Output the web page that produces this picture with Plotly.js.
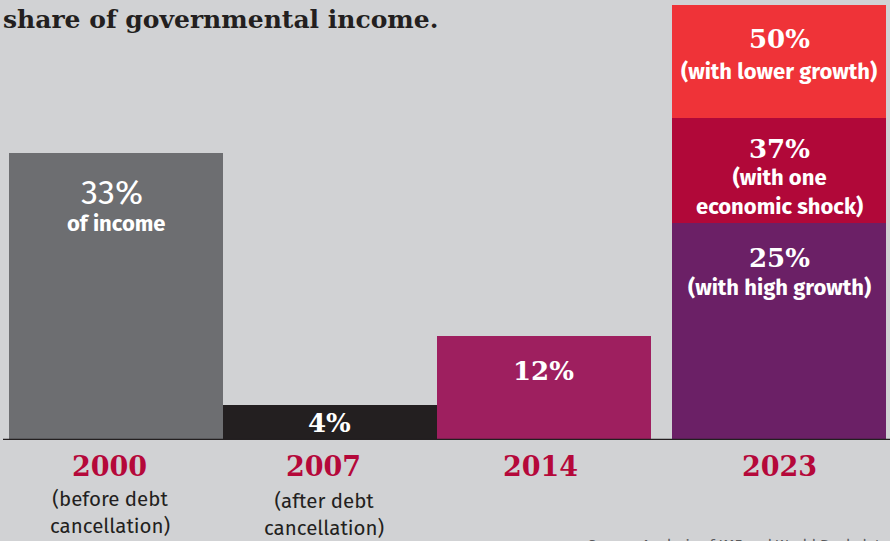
<!DOCTYPE html>
<html>
<head>
<meta charset="utf-8">
<script src="https://cdn.plot.ly/plotly-3.0.1.min.js"></script>
<style>
  html, body { margin: 0; padding: 0; background: #d1d2d4; }
  #chart { width: 890px; height: 541px; }
</style>
</head>
<body>
<div id="chart"></div>
<script>
// ---- data ----
const categories = ["2000", "2007", "2014", "2023"];
const historicShares = [33, 4, 12];              // 2000, 2007, 2014
const historicColors = ["#6d6e71", "#231f20", "#9e1f5f"];
const scenarioShares = [50, 37, 25];             // 2023 projections (drawn back to front)
const scenarioColors = ["#ef3338", "#b10839", "#6b2066"];
const scenarioNotes = ["(with lower growth)", "(with one<br>economic shock)", "(with high growth)"];
const yearNotes = ["(before debt<br>cancellation)", "(after debt<br>cancellation)", "", ""];
const titleText = "share of governmental income.";
const sourceText = "Source: Analysis of IMF and World Bank data";

// ---- style ----
const SLAB = "DejaVu Serif, serif";
const SANS = "Fira Sans, Noto Sans, sans-serif";
const WHITE = "#ffffff";
const YEAR_RED = "#b5083a";
const BG = "#d1d2d4";
const SHIFT_2023 = 0.1; // gap before the 2023 column (category units)

const traces = [{
  type: "bar",
  x: categories.slice(0, 3),
  y: historicShares,
  width: 1,
  marker: { color: historicColors, line: { width: 0 } },
  hoverinfo: "skip"
}];
scenarioShares.forEach((v, i) => {
  traces.push({
    type: "bar",
    x: [categories[3]],
    y: [v],
    width: 1,
    offset: -0.5 + SHIFT_2023,
    marker: { color: scenarioColors[i], line: { width: 0 } },
    hoverinfo: "skip"
  });
});

const ann = [];
function add(o) { ann.push(Object.assign({ showarrow: false, xref: "x", yref: "y", xanchor: "center", yanchor: "middle", borderpad: 0 }, o)); }

// in-bar labels, historic
add({ x: -0.02, y: historicShares[0], yshift: -40, text: historicShares[0] + "%", font: { family: SANS, size: 34, color: WHITE } });
add({ x: 0, y: historicShares[0], yshift: -71, text: "<b>of income</b>", font: { family: SANS, size: 22, color: WHITE } });
add({ x: 1, y: historicShares[1], yshift: -18, text: "<b>" + historicShares[1] + "%</b>", font: { family: SLAB, size: 26, color: WHITE } });
add({ x: 2, y: historicShares[2], yshift: -35, text: "<b>" + historicShares[2] + "%</b>", font: { family: SLAB, size: 26, color: WHITE } });

// in-bar labels, 2023 scenarios
const pctShift = [-34, -31, -35];
const noteShift = [-66, -74, -65];
scenarioShares.forEach((v, i) => {
  add({ x: 3 + SHIFT_2023, y: v, yshift: pctShift[i], text: "<b>" + v + "%</b>", font: { family: SLAB, size: 26, color: WHITE } });
  add({ x: 3 + SHIFT_2023, y: v, yshift: noteShift[i], text: "<b>" + scenarioNotes[i] + "</b>", font: { family: SANS, size: 22, color: WHITE } });
});

// year labels below the axis
const yearX = [-0.03, 0.97, 1.985, 3 + SHIFT_2023];
categories.forEach((c, i) => {
  add({ x: yearX[i], y: 0, yshift: -26, text: "<b>" + c + "</b>", font: { family: SLAB, size: 27, color: YEAR_RED } });
  if (yearNotes[i]) {
    add({ x: yearX[i], y: 0, yshift: i === 0 ? -72 : -74, text: yearNotes[i], font: { family: SANS, size: 20.5, color: "#231f20" } });
  }
});

// title (top-left, partially visible headline)
ann.push({ xref: "paper", yref: "paper", x: 1 / 890, y: 1, yshift: -3, xanchor: "left", yanchor: "top", showarrow: false,
  text: "<b>" + titleText + "</b>", font: { family: SLAB, size: 25, color: "#231f20" } });
// source (cut off at the bottom edge, as in the original)
ann.push({ xref: "paper", yref: "paper", x: 586 / 890, y: 0, yshift: -94, xanchor: "left", yanchor: "top", showarrow: false,
  text: sourceText, font: { family: SANS, size: 15, color: "#58595b" } });

const layout = {
  width: 890, height: 541,
  margin: { l: 0, r: 0, t: 0, b: 101, pad: 0 },
  paper_bgcolor: BG, plot_bgcolor: BG,
  barmode: "overlay",
  bargap: 0,
  showlegend: false,
  xaxis: { type: "category", range: [-0.542, 3.617], showticklabels: false, showgrid: false, zeroline: false, showline: false, ticks: "", fixedrange: true },
  yaxis: { range: [0, 50.575], showticklabels: false, showgrid: false, zeroline: false, showline: false, ticks: "", fixedrange: true },
  shapes: [{ type: "line", xref: "paper", yref: "y", x0: 3 / 890, x1: 1, y0: 0, y1: 0, line: { color: "#231f20", width: 2.5 } }],
  annotations: ann
};

Plotly.newPlot("chart", traces, layout, { displayModeBar: false, staticPlot: true });
</script>
</body>
</html>
